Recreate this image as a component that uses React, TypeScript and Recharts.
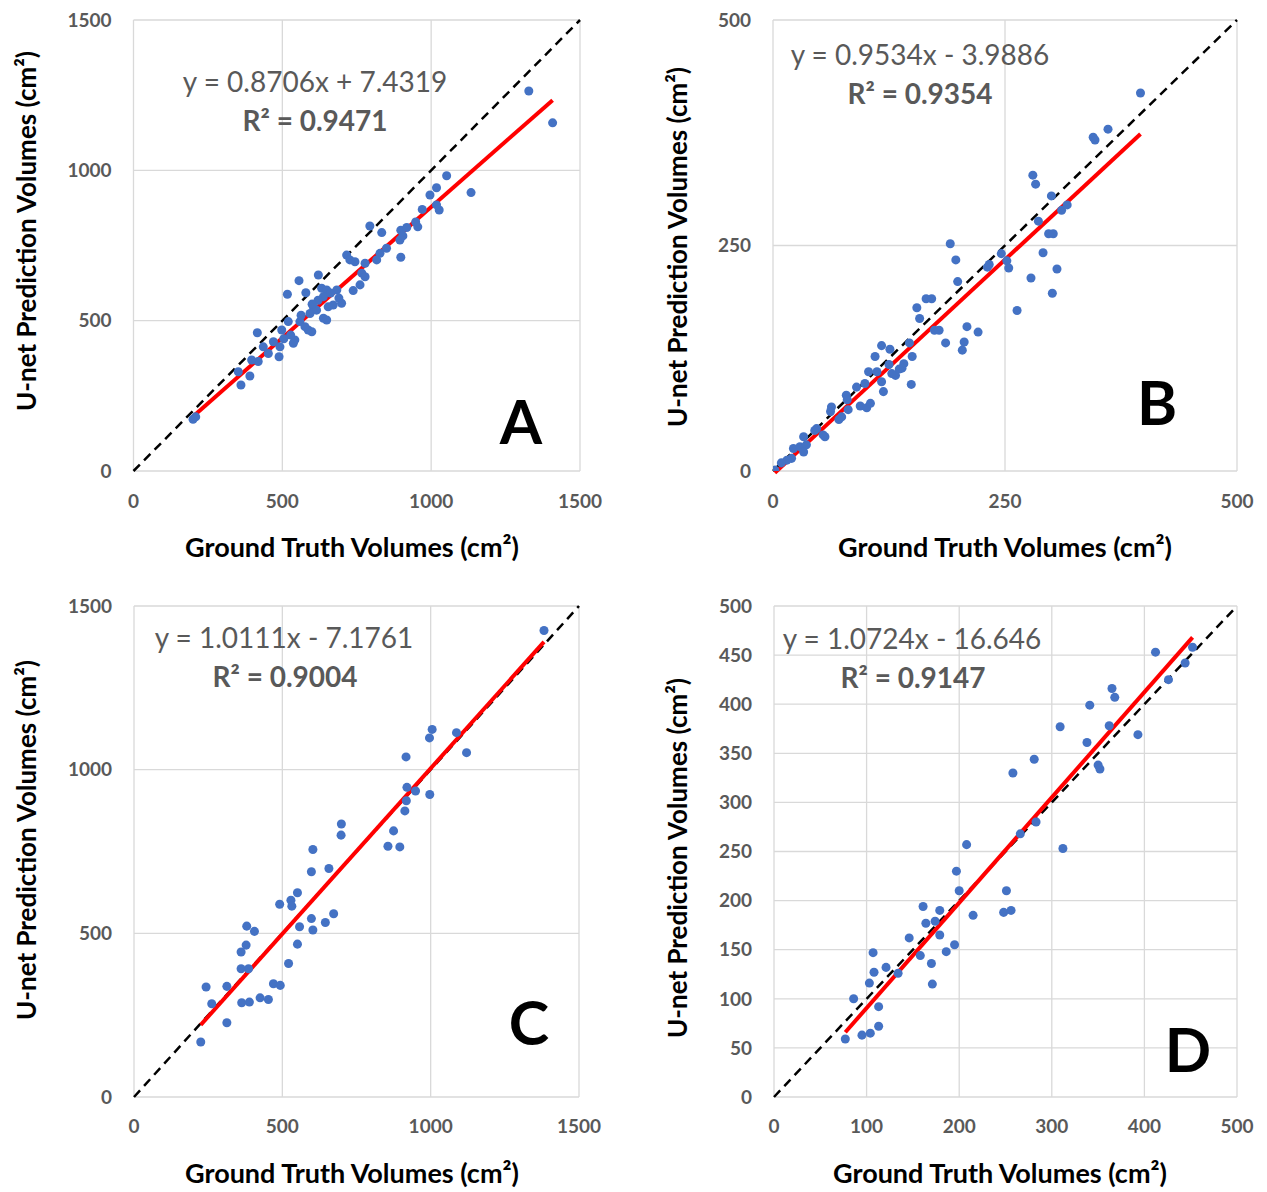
import React from 'react';
import {
  ScatterChart,
  Scatter,
  XAxis,
  YAxis,
  ZAxis,
  CartesianGrid,
  ReferenceLine,
  Customized,
} from 'recharts';

type Pt = [number, number];

// ---------- Panel A ----------
const pointsA: Pt[] = [
  [1328, 1264], [1408, 1158], [1052, 982], [1018, 942], [996, 918], [1134, 926], [970, 870], [1027, 868],
  [1018, 885], [955, 812], [898, 801], [918, 810], [948, 828], [794, 815], [834, 793], [895, 768],
  [898, 711], [850, 741], [828, 724], [817, 702], [778, 691], [716, 718], [744, 696], [767, 658],
  [778, 646], [761, 619], [738, 600], [621, 652], [556, 633], [517, 588], [579, 593], [632, 608],
  [649, 602], [683, 602], [699, 558], [671, 552], [638, 580], [654, 546], [604, 546], [638, 508],
  [649, 502], [593, 524], [615, 535], [559, 497], [520, 497], [587, 469], [599, 463], [576, 480],
  [542, 436], [537, 425], [498, 469], [416, 460], [470, 430], [492, 413], [489, 380], [453, 391],
  [436, 413], [419, 364], [397, 369], [352, 330], [391, 316], [361, 286], [200, 172], [209, 180],
  [620, 568], [662, 592], [563, 518], [528, 452], [505, 440], [727, 702], [905, 782], [600, 555], [690, 575],
];
const ticksA = [0, 500, 1000, 1500];
const fitA = { slope: 0.8706, intercept: 7.4319, xMin: 200, xMax: 1408 };
const eqA = 'y = 0.8706x + 7.4319';
const r2A = 'R\u00B2 = 0.9471';

// ---------- Panel B ----------
const pointsB: Pt[] = [
  [396, 419], [361, 379], [345, 370], [347, 367], [280, 328], [283, 318], [300, 305], [311, 289],
  [317, 295], [286, 277], [297, 263], [302, 263], [291, 242], [306, 224], [301, 197], [278, 214],
  [263, 178], [246, 241], [252, 233], [254, 225], [231, 226], [233, 229], [191, 252], [197, 234],
  [199, 210], [165, 191], [171, 191], [155, 181], [158, 169], [174, 156], [179, 156], [186, 142],
  [209, 160], [221, 154], [206, 143], [204, 134], [147, 142], [150, 127], [117, 139], [126, 135],
  [110, 127], [141, 119], [139, 114], [132, 106], [125, 118], [103, 110], [112, 110], [117, 99],
  [119, 88], [149, 96], [99, 97], [90, 93], [79, 84], [80, 79], [81, 68], [94, 72], [101, 70],
  [105, 75], [63, 71], [62, 66], [71, 57], [74, 60], [47, 47], [45, 45], [56, 38], [54, 40],
  [33, 38], [22, 25], [29, 27], [36, 29], [33, 21], [20, 14], [15, 12], [9, 9], [2, 1], [0, 0],
  [128, 108], [136, 113],
];
const ticksB = [0, 250, 500];
const fitB = { slope: 0.9534, intercept: -3.9886, xMin: 2, xMax: 396 };
const eqB = 'y = 0.9534x - 3.9886';
const r2B = 'R\u00B2 = 0.9354';

// ---------- Panel C ----------
const pointsC: Pt[] = [
  [1382, 1425], [1005, 1123], [996, 1097], [1087, 1113], [1121, 1052], [917, 1039], [920, 946],
  [949, 935], [918, 905], [913, 874], [997, 924], [875, 813], [856, 766], [896, 764], [699, 834],
  [698, 800], [603, 756], [598, 688], [657, 698], [551, 624], [529, 601], [532, 583], [491, 589],
  [598, 545], [645, 533], [673, 560], [558, 520], [603, 510], [551, 467], [380, 522], [406, 506],
  [378, 464], [361, 443], [361, 392], [386, 392], [521, 408], [470, 346], [493, 341], [425, 303],
  [453, 298], [363, 288], [389, 290], [313, 338], [243, 336], [262, 285], [313, 227], [225, 168],
];
const ticksC = [0, 500, 1000, 1500];
const fitC = { slope: 1.0111, intercept: -7.1761, xMin: 225, xMax: 1382 };
const eqC = 'y = 1.0111x - 7.1761';
const r2C = 'R\u00B2 = 0.9004';

// ---------- Panel D ----------
const pointsD: Pt[] = [
  [412, 453], [452, 458], [444, 442], [426, 425], [365, 416], [368, 407], [341, 399], [362, 378],
  [393, 369], [309, 377], [338, 361], [350, 338], [352, 334], [281, 344], [258, 330], [283, 280],
  [266, 268], [312, 253], [208, 257], [197, 230], [200, 210], [251, 210], [248, 188], [256, 190],
  [215, 185], [161, 194], [179, 190], [164, 177], [174, 179], [179, 165], [146, 162], [186, 148],
  [195, 155], [158, 144], [170, 136], [171, 115], [134, 126], [121, 132], [107, 147], [108, 127],
  [103, 116], [86, 100], [113, 92], [113, 72], [104, 65], [95, 63], [77, 59],
];
const xTicksD = [0, 100, 200, 300, 400, 500];
const yTicksD = [0, 50, 100, 150, 200, 250, 300, 350, 400, 450, 500];
const fitD = { slope: 1.0724, intercept: -16.646, xMin: 77, xMax: 452 };
const eqD = 'y = 1.0724x - 16.646';
const r2D = 'R\u00B2 = 0.9147';

const xTitle = 'Ground Truth Volumes (cm\u00B2)';
const yTitle = 'U-net Prediction Volumes (cm\u00B2)';

const FONT = 'Lato, "Open Sans", sans-serif';
const BLUE = '#4472C4';
const GREY = '#595959';

interface Cfg {
  left: number; top: number; width: number; height: number;
  plot: { x0: number; x1: number; y0: number; y1: number };
  max: number;
  xTicks: number[]; yTicks: number[];
  points: Pt[];
  fit: { slope: number; intercept: number; xMin: number; xMax: number };
  eq: string; r2: string; letter: string;
  eqPos: [number, number]; r2Pos: [number, number]; letterPos: [number, number];
  yTitlePos: [number, number]; xTitlePos: [number, number];
  xTickMargin: number;
}

const panels: Cfg[] = [
  {
    left: 0, top: 0, width: 633, height: 596,
    plot: { x0: 133.5, x1: 580, y0: 20, y1: 471 },
    max: 1500, xTicks: ticksA, yTicks: ticksA, points: pointsA, fit: fitA,
    eq: eqA, r2: r2A, letter: 'A',
    eqPos: [315, 92], r2Pos: [315, 131], letterPos: [521, 444],
    yTitlePos: [26, 231], xTitlePos: [352, 557], xTickMargin: 24,
  },
  {
    left: 633, top: 0, width: 634, height: 596,
    plot: { x0: 773, x1: 1237, y0: 20, y1: 471 },
    max: 500, xTicks: ticksB, yTicks: ticksB, points: pointsB, fit: fitB,
    eq: eqB, r2: r2B, letter: 'B',
    eqPos: [920, 65], r2Pos: [920, 104], letterPos: [1157, 425],
    yTitlePos: [677, 247], xTitlePos: [1005, 557], xTickMargin: 24,
  },
  {
    left: 0, top: 580, width: 633, height: 612,
    plot: { x0: 134, x1: 579, y0: 606, y1: 1097 },
    max: 1500, xTicks: ticksC, yTicks: ticksC, points: pointsC, fit: fitC,
    eq: eqC, r2: r2C, letter: 'C',
    eqPos: [284, 648], r2Pos: [285, 687], letterPos: [529, 1045],
    yTitlePos: [26, 840], xTitlePos: [352, 1183], xTickMargin: 23,
  },
  {
    left: 633, top: 580, width: 634, height: 612,
    plot: { x0: 774, x1: 1237, y0: 606, y1: 1097 },
    max: 500, xTicks: xTicksD, yTicks: yTicksD, points: pointsD, fit: fitD,
    eq: eqD, r2: r2D, letter: 'D',
    eqPos: [912, 649], r2Pos: [913, 688], letterPos: [1188, 1072],
    yTitlePos: [677, 858], xTitlePos: [1000, 1183], xTickMargin: 23,
  },
];

const tickStyle = { fill: GREY, fontSize: 19, fontWeight: 700, fontFamily: FONT };

function Panel({ cfg }: { cfg: Cfg }) {
  const { left, top, width, height, plot } = cfg;
  const yAxisW = 60;
  const xAxisH = 60;
  const margin = {
    top: plot.y0 - top,
    left: plot.x0 - left - yAxisW,
    right: left + width - plot.x1,
    bottom: top + height - plot.y1 - xAxisH,
  };
  const data = cfg.points.map(([x, y]) => ({ x, y }));
  const f = cfg.fit;
  const fitSeg = [
    { x: f.xMin, y: f.slope * f.xMin + f.intercept },
    { x: f.xMax, y: f.slope * f.xMax + f.intercept },
  ];
  const lx = (v: number) => v - left;
  const ly = (v: number) => v - top;
  const [ytx, yty] = cfg.yTitlePos;
  const Overlay = () => (
    <g fontFamily={FONT}>
      <text x={lx(cfg.eqPos[0])} y={ly(cfg.eqPos[1])} textAnchor="middle" fontSize={28} fill={GREY}>
        {cfg.eq}
      </text>
      <text x={lx(cfg.r2Pos[0])} y={ly(cfg.r2Pos[1])} textAnchor="middle" fontSize={28} fontWeight={700} fill={GREY}>
        {cfg.r2}
      </text>
      <text x={lx(cfg.letterPos[0])} y={ly(cfg.letterPos[1])} textAnchor="middle" fontSize={61} fontWeight={700} fill="#000">
        {cfg.letter}
      </text>
      <text
        x={lx(ytx)}
        y={ly(yty)}
        transform={`rotate(-90 ${lx(ytx)} ${ly(yty)})`}
        textAnchor="middle"
        dominantBaseline="central"
        fontSize={26}
        fontWeight={700}
        fill="#000"
      >
        {yTitle}
      </text>
      <text x={lx(cfg.xTitlePos[0])} y={ly(cfg.xTitlePos[1])} textAnchor="middle" fontSize={27} fontWeight={700} fill="#000">
        {xTitle}
      </text>
    </g>
  );
  return (
    <div style={{ position: 'absolute', left, top, width, height }}>
      <ScatterChart width={width} height={height} margin={margin}>
        <CartesianGrid stroke="#d9d9d9" strokeWidth={1.3} />
        <XAxis
          type="number"
          dataKey="x"
          domain={[0, cfg.max]}
          ticks={cfg.xTicks}
          interval={0}
          height={xAxisH}
          tickLine={false}
          axisLine={false}
          tickSize={0}
          tickMargin={cfg.xTickMargin}
          tick={tickStyle}
          allowDataOverflow
        />
        <YAxis
          type="number"
          dataKey="y"
          domain={[0, cfg.max]}
          ticks={cfg.yTicks}
          interval={0}
          width={yAxisW}
          tickLine={false}
          axisLine={false}
          tickSize={0}
          tickMargin={22}
          tick={tickStyle}
          allowDataOverflow
        />
        <ZAxis range={[72, 72]} />
        <Scatter data={data} fill={BLUE} isAnimationActive={false} />
        <ReferenceLine
          segment={[{ x: 0, y: 0 }, { x: cfg.max, y: cfg.max }]}
          stroke="#000"
          strokeWidth={2.5}
          strokeDasharray="9 6"
          ifOverflow="visible"
        />
        <ReferenceLine segment={fitSeg} stroke="#ff0000" strokeWidth={4} ifOverflow="visible" />
        <Customized component={Overlay} />
      </ScatterChart>
    </div>
  );
}

export default function App() {
  return (
    <div style={{ position: 'absolute', left: 0, top: 0, width: 1267, height: 1192, background: '#fff' }}>
      {panels.map((p) => (
        <Panel key={p.letter} cfg={p} />
      ))}
    </div>
  );
}
